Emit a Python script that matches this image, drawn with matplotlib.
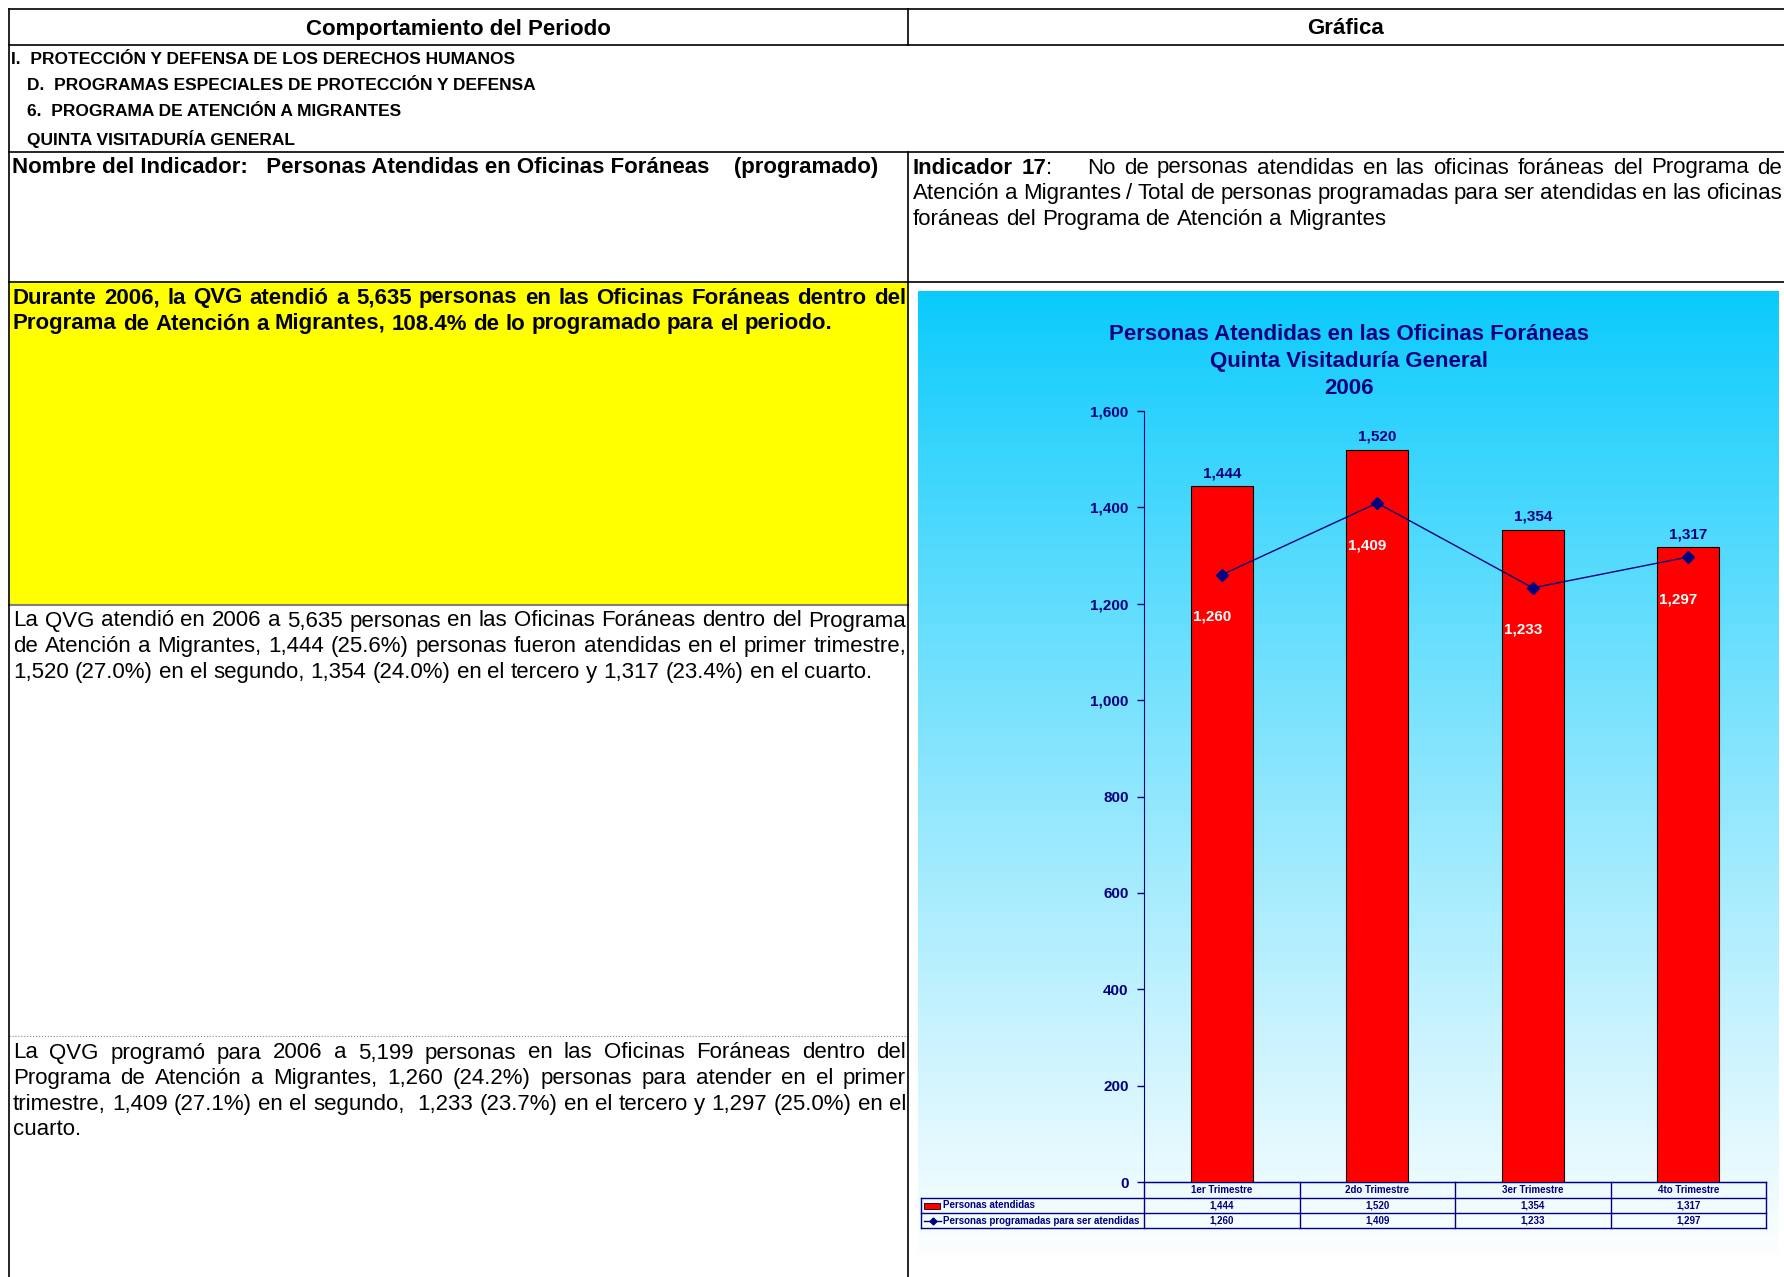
import re

import matplotlib
matplotlib.use("Agg")
import matplotlib.pyplot as plt
import numpy as np
from matplotlib.patches import Rectangle

plt.rcParams["font.family"] = ["Liberation Sans", "DejaVu Sans"]

W, H = 1784, 1277
NAVY = "#000080"

# chart data
categories = ["1er Trimestre", "2do Trimestre", "3er Trimestre", "4to Trimestre"]
atendidas = [1444, 1520, 1354, 1317]
programadas = [1260, 1409, 1233, 1297]
y_ticks = [0, 200, 400, 600, 800, 1000, 1200, 1400, 1600]
series_names = ["Personas atendidas", "Personas programadas para ser atendidas"]

chart_title = ["Personas Atendidas en las Oficinas Foráneas",
               "Quinta Visitaduría General",
               "2006"]

section_lines = ["I.  PROTECCIÓN Y DEFENSA DE LOS DERECHOS HUMANOS",
                 "D.  PROGRAMAS ESPECIALES DE PROTECCIÓN Y DEFENSA",
                 "6.  PROGRAMA DE ATENCIÓN A MIGRANTES",
                 "QUINTA VISITADURÍA GENERAL"]

indicador_lines = ["Indicador 17:    No de personas atendidas en las oficinas foráneas del Programa de",
                   "Atención a Migrantes / Total de personas programadas para ser atendidas en las oficinas",
                   "foráneas del Programa de Atención a Migrantes"]

durante_lines = ["Durante 2006, la QVG atendió a 5,635 personas en las Oficinas Foráneas dentro del",
                 "Programa de Atención a Migrantes, 108.4% de lo programado para el periodo."]

atendio_lines = ["La QVG atendió en 2006 a 5,635 personas en las Oficinas Foráneas dentro del Programa",
                 "de Atención a Migrantes, 1,444 (25.6%) personas fueron atendidas en el primer trimestre,",
                 "1,520 (27.0%) en el segundo, 1,354 (24.0%) en el tercero y 1,317 (23.4%) en el cuarto."]

programo_lines = ["La QVG programó para 2006 a 5,199 personas en las Oficinas Foráneas dentro del",
                  "Programa de Atención a Migrantes, 1,260 (24.2%) personas para atender en el primer",
                  "trimestre, 1,409 (27.1%) en el segundo,  1,233 (23.7%) en el tercero y 1,297 (25.0%) en el",
                  "cuarto."]

TXT = 16      # body text size
SEC = 12.5    # section headings
CHART = 11    # chart labels
TAB = 7       # table under chart


def write_line(ax, renderer, line, x0, x1, y, size, weight="normal", justify=True, bold_words=()):
    """Place words one by one so the line fills x0..x1 (like a justified cell)."""
    pieces = re.findall(r"\S+|\s+", line)
    words, gaps = [], []
    for p in pieces:
        if p.isspace():
            gaps.append(len(p))
        else:
            words.append(p)
    texts, widths = [], []
    for i, w in enumerate(words):
        wt = "bold" if i in bold_words else weight
        # "17:" -> bold number, normal colon
        if i in bold_words and w.endswith(":"):
            t1 = ax.text(0, y, w[:-1], fontsize=size, fontweight="bold", va="center", ha="left")
            t2 = ax.text(0, y, ":", fontsize=size, fontweight="normal", va="center", ha="left")
            w1 = t1.get_window_extent(renderer).width
            w2 = t2.get_window_extent(renderer).width
            texts.append([(t1, 0), (t2, w1)])
            widths.append(w1 + w2)
        else:
            t = ax.text(0, y, w, fontsize=size, fontweight=wt, va="center", ha="left")
            texts.append([(t, 0)])
            widths.append(t.get_window_extent(renderer).width)
    if justify and len(words) > 1:
        unit = (x1 - x0 - sum(widths)) / sum(gaps)
    else:
        space = ax.text(0, y, "a a", fontsize=size, fontweight=weight)
        aa = ax.text(0, y, "aa", fontsize=size, fontweight=weight)
        unit = space.get_window_extent(renderer).width - aa.get_window_extent(renderer).width
        space.remove()
        aa.remove()
    x = x0
    for i, parts in enumerate(texts):
        for t, dx in parts:
            t.set_position((x + dx, y))
        x += widths[i]
        if i < len(gaps):
            x += gaps[i] * unit


fig = plt.figure(figsize=(W / 100, H / 100), dpi=100)
canvas = fig.add_axes([0, 0, 1, 1])
canvas.set_xlim(0, W)
canvas.set_ylim(H, 0)
canvas.axis("off")
renderer = fig.canvas.get_renderer()

# yellow highlight cell
canvas.add_patch(Rectangle((9, 282), 899, 323, facecolor="#FFFF00", edgecolor="none"))
canvas.plot([9, 908], [605, 605], color="#808080", lw=1.5)
canvas.plot([9, 908], [1036, 1036], color="#808080", lw=0.8, ls=":")

# grid of the sheet
lw = 1.2
for yy in [9, 45, 152, 282]:
    canvas.plot([9, W], [yy, yy], color="black", lw=lw)
canvas.plot([9, 9], [9, H], color="black", lw=lw)
canvas.plot([908, 908], [9, 45], color="black", lw=lw)
canvas.plot([908, 908], [152, H], color="black", lw=lw)

canvas.text(458, 29, "Comportamiento del Periodo", fontsize=TXT, fontweight="bold",
            ha="center", va="center")
canvas.text(1346, 29, "Gráfica", fontsize=TXT, fontweight="bold", ha="center", va="center")

sec_x = [11, 27, 27, 27]
sec_y = [60, 86, 112, 139]
for txt, xx, yy in zip(section_lines, sec_x, sec_y):
    canvas.text(xx, yy, txt, fontsize=SEC, fontweight="bold", ha="left", va="center")

canvas.text(12, 168, "Nombre del Indicador:   Personas Atendidas en Oficinas Foráneas    (programado)",
            fontsize=TXT, fontweight="bold", ha="left", va="center")

# paragraphs
for i, line in enumerate(indicador_lines):
    write_line(canvas, renderer, line, 913, 1782, 168 + 25.6 * i, TXT,
               justify=i < len(indicador_lines) - 1, bold_words=(0, 1) if i == 0 else ())
for i, line in enumerate(durante_lines):
    write_line(canvas, renderer, line, 13, 906, 298 + 26 * i, TXT, weight="bold",
               justify=i < len(durante_lines) - 1)
for i, line in enumerate(atendio_lines):
    write_line(canvas, renderer, line, 13, 906, 621 + 25.6 * i, TXT,
               justify=i < len(atendio_lines) - 1)
for i, line in enumerate(programo_lines):
    write_line(canvas, renderer, line, 13, 906, 1053 + 25.6 * i, TXT,
               justify=i < len(programo_lines) - 1)

# chart background gradient (cyan to white)
top = np.array([8, 202, 252]) / 255
bottom = np.array([252, 254, 255]) / 255
frac = np.linspace(0, 1, 300)[:, None] ** 0.9
grad = (top * (1 - frac) + bottom * frac)[:, None, :]
canvas.imshow(grad, extent=(918, 1779, 1255, 291), aspect="auto", zorder=0)
canvas.set_xlim(0, W)
canvas.set_ylim(H, 0)

for i, line in enumerate(chart_title):
    canvas.text(1349, 335 + 26.5 * i, line, fontsize=TXT, fontweight="bold", color=NAVY,
                ha="center", va="center")

# chart
ax = fig.add_axes([1144 / W, (H - 1182) / H, (1766 - 1144) / W, (1182 - 411) / H])
ax.patch.set_visible(False)
x = np.arange(len(categories))
ax.bar(x, atendidas, width=0.4, color="#FF0000", edgecolor="black", linewidth=0.8, zorder=2)
ax.plot(x, programadas, color=NAVY, lw=1, marker="D", ms=6, zorder=3)
ax.set_xlim(-0.5, len(categories) - 0.5)
ax.set_ylim(0, 1600)
ax.set_yticks(y_ticks)
ax.set_yticklabels([f"{v:,}" for v in y_ticks], fontsize=CHART, fontweight="bold", color=NAVY)
ax.tick_params(axis="y", direction="out", length=5, width=1, color=NAVY, pad=6)
ax.set_xticks([])
for s in ["top", "right"]:
    ax.spines[s].set_visible(False)
ax.spines["left"].set_color(NAVY)
ax.spines["bottom"].set_color(NAVY)

for xi, v in zip(x, atendidas):
    ax.annotate(f"{v:,}", (xi, v), xytext=(0, 13), textcoords="offset pixels",
                ha="center", va="center", fontsize=CHART, fontweight="bold", color=NAVY)
for xi, v in zip(x, programadas):
    ax.annotate(f"{v:,}", (xi, v), xytext=(-10, -42), textcoords="offset pixels",
                ha="center", va="center", fontsize=CHART, fontweight="bold", color="white")

# data table under the chart, columns follow the chart's x scale
edges = ax.transData.transform([(e - 0.5, 0) for e in range(len(categories) + 1)])[:, 0]
centers = ax.transData.transform([(c, 0) for c in x])[:, 0]
row_y = [1182, 1198, 1213, 1228]
tab_left = 921
tlw = 1.0
canvas.plot([edges[0], edges[-1]], [row_y[0], row_y[0]], color=NAVY, lw=tlw)
for yy in row_y[1:]:
    canvas.plot([tab_left, edges[-1]], [yy, yy], color=NAVY, lw=tlw)
canvas.plot([tab_left, tab_left], [row_y[1], row_y[3]], color=NAVY, lw=tlw)
for e in edges:
    canvas.plot([e, e], [row_y[0], row_y[3]], color=NAVY, lw=tlw)

for c, cat, a, p in zip(centers, categories, atendidas, programadas):
    canvas.text(c, (row_y[0] + row_y[1]) / 2, cat, fontsize=TAB, fontweight="bold",
                color=NAVY, ha="center", va="center")
    canvas.text(c, (row_y[1] + row_y[2]) / 2, f"{a:,}", fontsize=TAB, fontweight="bold",
                color=NAVY, ha="center", va="center")
    canvas.text(c, (row_y[2] + row_y[3]) / 2, f"{p:,}", fontsize=TAB, fontweight="bold",
                color=NAVY, ha="center", va="center")

# legend keys in the table
r1 = (row_y[1] + row_y[2]) / 2
r2 = (row_y[2] + row_y[3]) / 2
canvas.add_patch(Rectangle((924, r1 - 3), 16, 6, facecolor="#FF0000", edgecolor="black", lw=0.6))
canvas.plot([924, 941], [r2, r2], color=NAVY, lw=1)
canvas.plot([932.5], [r2], color=NAVY, marker="D", ms=3.5)
canvas.text(943, r1, series_names[0], fontsize=TAB, fontweight="bold", color=NAVY,
            ha="left", va="center")
canvas.text(943, r2, series_names[1], fontsize=TAB, fontweight="bold", color=NAVY,
            ha="left", va="center")

fig.savefig("out.png", dpi=100)
